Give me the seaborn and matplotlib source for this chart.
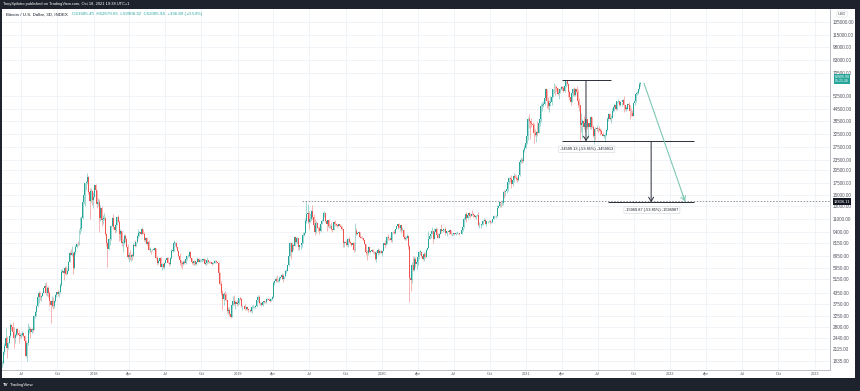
import matplotlib
matplotlib.use("Agg")
import matplotlib.pyplot as plt
import matplotlib.dates as mdates
from matplotlib.patches import Rectangle
import numpy as np
import pandas as pd
import seaborn as sns

# 3-day candles, first one starts on this day
start_day = "2017-05-14"
first_open = 1720

# closes / highs / lows per year
close_2017 = [1780, 2050, 2200, 2450, 2150, 2300,
              2500, 2900, 2800, 2650, 2450, 2550, 2750, 2600, 2550, 2500,
              2550, 2620, 2500, 2350, 1950, 2300, 2700, 2750, 2650, 2750, 2720,
              3250, 3400, 3650, 4100, 4300, 4100, 4150, 4350, 4600, 4750,
              4300, 4600, 4300, 3900, 3700, 3900, 3650, 3900, 4200, 4380,
              4250, 4400, 4800, 5650, 5700, 5600, 5950, 5500, 5750, 6450,
              7150, 7000, 7150, 5950, 7250, 7750, 8100, 8050, 9700, 9850,
              11200, 13800, 15000, 17400, 17700, 18900, 15500, 13900, 15800, 14000, 14700]
high_2017 = [1820, 2080, 2300, 2760, 2500, 2330,
             2520, 2950, 2910, 3000, 2800, 2620, 2780, 2780, 2700, 2600,
             2600, 2680, 2620, 2550, 2380, 2330, 2950, 2850, 2800, 2790, 2900,
             3280, 3450, 3700, 4200, 4450, 4370, 4200, 4380, 4620, 4900,
             4980, 4700, 4700, 4450, 3950, 4150, 4100, 3950, 4250, 4400,
             4470, 4450, 4920, 5850, 5850, 5760, 6100, 6100, 5950, 6470,
             7400, 7600, 7900, 7300, 7350, 8000, 8200, 8350, 9800, 11400,
             11500, 14400, 17200, 17500, 17900, 19800, 19100, 16400, 16500, 16000, 15500]
low_2017 = [1690, 1760, 2000, 2180, 1900, 2120,
            2280, 2480, 2700, 2600, 2150, 2300, 2500, 2550, 2300, 2450,
            2450, 2500, 2480, 2320, 1920, 1830, 2250, 2600, 2450, 2620, 2650,
            2720, 3150, 3250, 3600, 3800, 3950, 3920, 4150, 4320, 4540,
            4200, 4150, 4100, 3650, 2970, 3600, 3550, 3590, 3850, 4100,
            4180, 4120, 4350, 4750, 5550, 5100, 5500, 5450, 5650, 5700,
            6400, 7000, 6950, 5500, 5850, 7100, 7700, 7900, 8000, 9100,
            9500, 11000, 13400, 13000, 16000, 17300, 15200, 11000, 13700, 13200, 12800]

close_2018 = [17000, 16000, 13400, 13700, 11200, 12800, 10900, 11100, 11250, 9150,
              8200, 7600, 8550, 8550, 10150, 11200, 10000, 9600, 10300,
              11400, 10700, 9200, 9550, 8200, 8200, 8900, 8550, 7800, 6850, 7050,
              6800, 7000, 6950, 8000, 7900, 8250, 8950, 9250, 9400, 9200,
              9700, 9200, 8450, 8700, 8050, 8250, 7500, 7500, 7450, 7500,
              7500, 7650, 6750, 6300, 6500, 6750, 6050, 6250, 6050, 6350,
              6600, 6750, 6350, 6250, 6750, 7400, 7400, 8200, 8200, 7750,
              7400, 6950, 6550, 6300, 6250, 6400, 6300, 6700, 6900, 6950, 7300,
              6750, 6400, 6300, 6500, 6250, 6400, 6700, 6450, 6600, 6600,
              6600, 6630, 6250, 6300, 6550, 6420, 6420, 6400, 6250, 6370,
              6480, 6520, 6400, 6350, 5600, 4850, 4300, 4000, 4250, 4200,
              3950, 3450, 3500, 3300, 3200, 3700, 3900, 3750, 3850, 3750]
high_2018 = [17200, 17250, 15500, 14500, 14300, 13200, 13000, 11700, 11950, 11300,
             9300, 8300, 8700, 8950, 10300, 11300, 11750, 10400, 10950,
             11550, 11700, 10900, 9800, 9500, 8600, 9100, 9100, 8700, 8100, 7250,
             7500, 7100, 7200, 8200, 8500, 8300, 9000, 9750, 9500, 9500,
             9990, 9750, 9400, 8800, 8850, 8400, 8500, 7750, 7500, 7600,
             7750, 7700, 7700, 6900, 6650, 6850, 6830, 6300, 6300, 6450,
             6700, 6800, 6800, 6400, 6800, 7550, 7550, 8500, 8300, 8300,
             7750, 7500, 7150, 6600, 6500, 6600, 6550, 6900, 6950, 7100, 7350,
             7400, 6750, 6450, 6550, 6600, 6450, 6800, 6750, 6650, 6650,
             6620, 6650, 6650, 6350, 6800, 6560, 6460, 6460, 6420, 6420,
             6550, 6600, 6550, 6400, 6380, 5650, 5050, 4500, 4400, 4450,
             4300, 3950, 3600, 3600, 3350, 3900, 4150, 4200, 3950, 3950]
low_2018 = [14600, 15500, 12800, 13100, 9400, 10800, 10100, 10400, 10900, 9000,
            7900, 6000, 7500, 8000, 8500, 10100, 9700, 9300, 9400,
            10200, 10600, 8400, 8500, 7850, 7300, 8050, 8300, 7780, 6650, 6450,
            6600, 6500, 6600, 6800, 7800, 7850, 8150, 8700, 8900, 9050,
            9100, 9150, 8350, 8300, 7950, 7950, 7450, 7300, 7100, 7400,
            7450, 7350, 6650, 6150, 6250, 6430, 5980, 5800, 5950, 5850,
            6300, 6450, 6300, 6100, 6200, 6650, 7250, 7350, 7850, 7700,
            7350, 6850, 6200, 6000, 5900, 6150, 6250, 6250, 6550, 6850, 6850,
            6700, 6250, 6150, 6200, 6200, 6150, 6400, 6400, 6400, 6500,
            6450, 6500, 6150, 6180, 6250, 6350, 6350, 6350, 6200, 6230,
            6300, 6350, 6350, 6250, 5300, 4800, 4200, 3500, 3700, 3950,
            3900, 3350, 3300, 3250, 3150, 3200, 3650, 3700, 3550, 3650]

close_2019 = [3800, 4050, 4000, 3650, 3650, 3650, 3550, 3600, 3550, 3470, 3500,
              3450, 3600, 3600, 3600, 3650, 3950, 4100, 3800, 3800,
              3700, 3850, 3900, 3850, 4000, 4000, 3980, 3900, 4000, 4100,
              4900, 5050, 5200, 5050, 5050, 5250, 5300, 5450, 5200, 5350,
              5700, 5750, 6150, 6950, 8200, 7250, 7950, 7900, 8800, 8300, 8700,
              7800, 7950, 8000, 8200, 9000, 9250, 10800, 11800, 12000, 10600,
              11000, 12300, 11300, 10300, 9400, 10500, 9900, 9850, 9500, 10400,
              10800, 11900, 11900, 10850, 10350, 10900, 10100, 10150, 9750, 9600,
              10600, 10400, 10300, 10150, 10350, 10150, 10000, 9700, 8200, 8300,
              8200, 7950, 8600, 8300, 8150, 7950, 8200, 7450, 9550, 9200, 9300,
              9400, 8800, 8750, 8650, 8500, 8100, 7300, 7150, 7750, 7300,
              7400, 7500, 7250, 7250, 6650, 7150, 7500, 7200, 7400, 7200]
high_2019 = [3950, 4080, 4100, 4050, 3700, 3700, 3750, 3650, 3620, 3550, 3520,
             3500, 3700, 3700, 3650, 3700, 3950, 4200, 4200, 3850,
             3850, 3900, 3950, 3900, 4050, 4050, 4080, 4000, 4050, 4150,
             5050, 5100, 5300, 5450, 5150, 5350, 5400, 5600, 5500, 5380,
             5800, 5900, 6200, 7400, 8300, 8300, 8250, 8050, 8900, 8800, 8800,
             8750, 8000, 8200, 8400, 9400, 9400, 11200, 13880, 13400, 12200,
             12000, 12400, 13200, 11800, 11100, 10800, 10700, 10000, 10150, 10450,
             11000, 12100, 12300, 11900, 10900, 10950, 11000, 10350, 10600, 9800,
             10750, 10900, 10550, 10400, 10450, 10400, 10250, 10100, 8700, 8350,
             8500, 8300, 8650, 8800, 8400, 8150, 8300, 8300, 10500, 9900, 9350,
             9500, 9400, 8950, 8950, 8700, 8500, 8100, 7500, 7850, 7800,
             7450, 7600, 7600, 7350, 7300, 7400, 7650, 7550, 7500, 7450]
low_2019 = [3700, 3750, 3950, 3600, 3500, 3580, 3480, 3500, 3500, 3400, 3420,
            3400, 3350, 3570, 3570, 3580, 3620, 3850, 3750, 3700,
            3650, 3680, 3830, 3800, 3820, 3950, 3950, 3850, 3900, 3970,
            4050, 4800, 5000, 4950, 4980, 5000, 5150, 5200, 4950, 5150,
            5300, 5600, 5700, 6100, 6950, 6700, 7300, 7500, 7900, 8200, 8050,
            7500, 7450, 7550, 7800, 8200, 8950, 9250, 10500, 10500, 9700,
            10600, 10800, 11100, 10100, 9050, 9300, 9850, 9500, 9150, 9400,
            10450, 10800, 11400, 10700, 9550, 10050, 9900, 9900, 9650, 9400,
            9600, 10150, 10100, 9950, 10150, 10100, 9800, 9600, 7800, 7750,
            8000, 7850, 7800, 8150, 8050, 7850, 7900, 7300, 7350, 9050, 9000,
            9050, 8750, 8650, 8600, 8400, 8050, 7050, 6550, 7050, 7250,
            7150, 7350, 7150, 7100, 6600, 6450, 7050, 7100, 7150, 7150]

close_2020 = [7350, 8150, 8000, 8100, 8800, 8700, 8650, 8450, 9400, 9350,
              9300, 9750, 10150, 10350, 9900, 10200, 9600, 9650, 8800, 8550,
              8750, 8900, 7900, 5250, 5100, 6200, 5800, 6700, 6250, 6450,
              6800, 7300, 7300, 6900, 6650, 7100, 6850, 7500, 7700, 8600,
              8900, 9150, 9550, 8550, 9350, 9700, 9050, 8750, 9200, 9700, 9500,
              9650, 9750, 9300, 9450, 9450, 9350, 9650, 9150, 9200, 9250,
              9100, 9250, 9250, 9250, 9150, 9150, 9600, 9950, 11100, 11800,
              11200, 11600, 11900, 11550, 11850, 11750, 11700, 11350, 11550, 11650,
              10200, 10250, 10250, 10450, 10800, 10950, 10450, 10750, 10750, 10800,
              10600, 10600, 11050, 11550, 11500, 11500, 12800, 13050, 13650, 13550, 13550,
              15600, 15500, 15700, 16100, 17700, 18700, 18400, 17150, 18200, 19200,
              18700, 18300, 18050, 19250, 22800, 23500, 23250, 26500, 27400, 29000]
high_2020 = [7400, 8200, 8450, 8200, 8900, 9200, 8750, 8700, 9400, 9550,
             9600, 9800, 10150, 10450, 10500, 10250, 10250, 10000, 9750, 8900,
             8900, 9150, 8800, 7950, 5950, 6400, 6900, 6950, 6800, 6550,
             7000, 7350, 7450, 7300, 6950, 7300, 7250, 7550, 7800, 9450,
             9050, 9200, 9950, 9550, 9850, 9950, 9850, 9250, 9250, 9700, 10400,
             9850, 9800, 9950, 9550, 9550, 9450, 9750, 9650, 9250, 9250,
             9200, 9400, 9450, 9300, 9250, 9200, 9700, 10050, 11400, 11850,
             12050, 11800, 12050, 12000, 12000, 12450, 11900, 11700, 11600, 11800,
             12050, 10600, 10450, 10550, 10900, 11150, 11100, 10850, 10800, 10950,
             10900, 10800, 11100, 11700, 11550, 11600, 13200, 13250, 13800, 13800, 14100,
             15750, 15950, 15900, 16500, 17800, 18800, 18800, 19400, 18300, 19900,
             19600, 19400, 18900, 19400, 23800, 24200, 24100, 26800, 28400, 29600]
low_2020 = [6900, 7350, 7700, 7950, 8100, 8500, 8450, 8250, 8300, 9250,
            9150, 9100, 9700, 9700, 9900, 9500, 9300, 9550, 8600, 8450,
            8500, 8700, 7600, 3850, 4450, 4900, 5750, 5700, 6050, 5900,
            6200, 6650, 7050, 6800, 6550, 6500, 6750, 6850, 7450, 7650,
            8650, 8750, 9100, 8200, 8800, 9200, 8950, 8700, 8650, 9100, 9300,
            9400, 9550, 9050, 9250, 8950, 9200, 9250, 9000, 8950, 9050,
            9050, 9050, 9100, 9150, 9050, 9100, 9150, 9500, 9900, 10900,
            10650, 11100, 11350, 11200, 11500, 11600, 11400, 11150, 11100, 11500,
            10150, 9900, 9900, 10200, 10300, 10750, 10350, 10150, 10550, 10600,
            10400, 10500, 10550, 11000, 11300, 11250, 11400, 12700, 12900, 12950, 13200,
            13300, 14500, 14850, 15400, 15700, 17300, 17600, 16300, 16800, 17700,
            18600, 18200, 17600, 17950, 19000, 22400, 22400, 22800, 25800, 27800]

close_2021 = [31900, 39400, 38200, 37300, 36800, 36600, 33000, 32300, 33400, 33100,
              37600, 39200, 46400, 47300, 47900, 51600, 57500, 49700, 46300, 48400,
              48800, 52300, 57300, 59300, 58900, 58300, 54300, 55100, 57600, 59000,
              58700, 56000, 59800, 63500, 61300, 55700, 51800, 49000, 54800, 57800,
              53300, 57300, 55800, 49700, 46800, 36700, 37500, 38400, 35700, 37300,
              39200, 35800, 37300, 35500, 40200, 35800, 31600, 34700, 34600, 35000,
              34700, 34200, 33800, 32700, 31800, 31800, 32100, 34300, 39400, 42200, 39200,
              39800, 43800, 45600, 47100, 44700, 49300, 49500, 46900, 48800, 48800,
              50000, 46800, 44900, 44900, 47700, 47300, 43600, 42700, 41000, 48200,
              49200, 53800, 54900, 57300, 61685.45, 62005.94]
high_2021 = [34700, 40300, 41950, 38200, 40100, 37800, 37400, 34800, 33800, 38500,
             37700, 40900, 48100, 48600, 49700, 52600, 58350, 57500, 52100, 50000,
             52600, 52400, 57400, 61800, 60600, 60000, 58600, 57200, 58400, 59800,
             60000, 59500, 61200, 63800, 64250, 62500, 57000, 52000, 56400, 58400,
             58900, 58400, 59500, 57900, 51500, 46700, 42500, 39500, 40800, 37900,
             39400, 39200, 37500, 38300, 41000, 40500, 36400, 35000, 35500, 36600,
             35000, 35900, 35000, 34600, 33300, 32300, 32900, 34500, 40500, 42300, 42600,
             41400, 45300, 46700, 48100, 47900, 49300, 50500, 49800, 49600, 49000,
             51000, 52900, 47300, 46400, 48500, 48800, 47300, 45000, 44300, 48400,
             49500, 55400, 56000, 57800, 62900, 62679.65]
low_2021 = [28700, 30000, 35100, 30400, 35400, 34700, 28900, 31600, 29300, 31900,
            33400, 36200, 37700, 43800, 45800, 47100, 50800, 45000, 44800, 43000,
            46300, 47100, 51900, 54600, 53300, 56200, 53600, 50500, 54800, 57000,
            56800, 55500, 55800, 59300, 60900, 52000, 50400, 47200, 48800, 53000,
            53000, 53000, 54500, 46000, 43800, 30000, 33500, 31100, 34700, 33400,
            35700, 34800, 31000, 34800, 34700, 35200, 31300, 28800, 30150, 33900,
            32800, 33800, 32200, 32700, 31600, 31000, 29300, 31800, 34000, 38400, 38800,
            37600, 39800, 42900, 43800, 44400, 44300, 48300, 46300, 46400, 46500,
            48600, 43000, 44400, 43700, 44700, 46900, 39600, 40700, 40800, 41200,
            47200, 49000, 53600, 54100, 56900, 59908.32]

# axis ticks
price_ticks = [1835, 2115, 2440, 2800, 3250, 3750, 4350, 5150, 5950, 6950, 8150,
               9400, 11000, 13000, 15000, 17500, 20500, 23500, 27500, 32500, 38500,
               44500, 52500, 70500, 83000, 98000, 115000, 135000]
date_ticks = pd.date_range("2017-07-01", "2023-01-01", freq="QS")
month_names = {4: "Apr", 7: "Jul", 10: "Oct"}

# drawings on the chart
resistance = 13836.11
resistance_start = "2019-06-14"
measure_top, measure_mid, measure_low = 64250, 29650, 13680
measure_1_text = "-34599.13 (-53.85%) -3459913"
measure_2_text = "-15969.87 (-53.85%) -1596987"
projection_dates = ["2021-10-26", "2022-02-07"]
projection_prices = [62000, 13836]

# ---------------------------------------------------------------
closes = np.array(close_2017 + close_2018 + close_2019 + close_2020 + close_2021, float)
highs = np.array(high_2017 + high_2018 + high_2019 + high_2020 + high_2021, float)
lows = np.array(low_2017 + low_2018 + low_2019 + low_2020 + low_2021, float)
dates = pd.date_range(start_day, periods=len(closes), freq="3D")
opens = np.concatenate([[first_open], closes[:-1]])
df = pd.DataFrame({"date": dates, "open": opens, "close": closes,
                   "high": np.maximum(highs, np.maximum(opens, closes)),
                   "low": np.minimum(lows, np.minimum(opens, closes))})
df["x"] = mdates.date2num(df["date"])
df["up"] = df["close"] >= df["open"]

W, H = 860, 391
UP, DOWN = "#26a69a", "#ef5350"
GRID = "#eef1f6"
TEXT = "#50535e"

sns.set_theme(style="white")
plt.rcParams["font.family"] = ["Liberation Sans", "DejaVu Sans"]

fig = plt.figure(figsize=(W / 100, H / 100), dpi=100, facecolor="#1e222d")


def fx(px):
    return px / W


def fy(py):
    return 1 - py / H


# white chart panel (behind the axes)
fig.patches.append(Rectangle((fx(2), fy(378)), fx(853), 369 / H, transform=fig.transFigure,
                             facecolor="white", edgecolor="none", zorder=-5))

ax = fig.add_axes([fx(2), fy(370), fx(828), 361 / H])
ax.set_zorder(2)
ax.set_facecolor("none")
ax.set_yscale("log")
ax.set_ylim(1628, 159100)
ax.set_xlim(mdates.datestr2num("2017-05-14"), mdates.datestr2num("2023-02-09"))

# grid
for t in price_ticks:
    ax.axhline(t, color=GRID, lw=0.6, zorder=0)
for d in date_ticks:
    ax.axvline(mdates.date2num(d), color=GRID, lw=0.6, zorder=0)

# candles
for up, color in [(True, UP), (False, DOWN)]:
    sub = df[df["up"] == up]
    ax.vlines(sub["x"], sub["low"], sub["high"], color=color, lw=0.5, alpha=0.6, zorder=2)
    bottom = np.minimum(sub["open"], sub["close"])
    height = np.maximum(np.abs(sub["close"] - sub["open"]), bottom * 0.005)
    ax.bar(sub["x"], height, bottom=bottom, width=2.5, color=color, lw=0, zorder=3)

# horizontal resistance ray
rx = mdates.datestr2num(resistance_start)
ax.hlines(resistance, rx, ax.get_xlim()[1], color="#787b86", lw=0.55,
          linestyles=(0, (2, 2)), zorder=4)

# measurement drawings
LINE = "#2a2e39"
d = mdates.datestr2num
ax.hlines(measure_top, d("2021-04-01"), d("2021-08-04"), color=LINE, lw=0.7, zorder=5)
ax.hlines(measure_mid, d("2021-04-01"), d("2022-03-02"), color=LINE, lw=0.7, zorder=5)
ax.hlines(measure_low, d("2021-07-27"), d("2022-03-02"), color=LINE, lw=0.7, zorder=5)
for xd, y0, y1 in [("2021-06-01", measure_top, measure_mid), ("2021-11-13", measure_mid, measure_low)]:
    ax.annotate("", xy=(d(xd), y1), xytext=(d(xd), y0),
                arrowprops=dict(arrowstyle="->,head_length=0.5,head_width=0.3", color=LINE,
                                lw=0.7, mutation_scale=6, shrinkA=0, shrinkB=0), zorder=5)
box = dict(boxstyle="round,pad=0.35,rounding_size=0.3", fc="white", ec="#d1d4dc", lw=0.4)
ax.text(d("2021-06-03"), 26800, measure_1_text, fontsize=2.8, color="#131722",
        ha="center", va="center", bbox=box, zorder=6)
ax.text(d("2021-11-15"), 12400, measure_2_text, fontsize=2.8, color="#131722",
        ha="center", va="center", bbox=box, zorder=6)

# projection line
proj = pd.DataFrame({"x": mdates.datestr2num(projection_dates), "y": projection_prices})
sns.lineplot(data=proj, x="x", y="y", ax=ax, color="#7fc8b5", lw=0.8, zorder=5)
ax.annotate("", xy=(proj["x"][1], proj["y"][1]), xytext=(proj["x"][1] - 6, proj["y"][1] * 1.08),
            arrowprops=dict(arrowstyle="->,head_length=0.5,head_width=0.3", color="#7fc8b5",
                            lw=0.8, mutation_scale=6, shrinkA=0, shrinkB=0), zorder=5)

# axes styling
for s in ["top", "left"]:
    ax.spines[s].set_visible(False)
ax.spines["right"].set_color("#b2b5be")
ax.spines["bottom"].set_color("#b2b5be")
ax.spines["right"].set_linewidth(0.6)
ax.spines["bottom"].set_linewidth(0.6)
ax.set_xlabel("")
ax.set_ylabel("")

ax.yaxis.tick_right()
ax.set_yticks(price_ticks)
ax.set_yticklabels([f"{t:.2f}" for t in price_ticks])
ax.yaxis.set_minor_locator(matplotlib.ticker.NullLocator())
ax.tick_params(axis="y", length=0, pad=2.2, labelsize=3.3, labelcolor=TEXT)

ax.set_xticks(mdates.date2num(date_ticks))
ax.set_xticklabels([str(t.year) if t.month == 1 else month_names[t.month] for t in date_ticks])
ax.tick_params(axis="x", length=0, pad=1.5, labelsize=2.7, labelcolor=TEXT)

# price tags on the right axis
fig.text(fx(842), fy(79), "62005.99\n05:21:26", fontsize=2.6, color="white", ha="center",
         va="center", linespacing=1.05, zorder=10,
         bbox=dict(boxstyle="square,pad=0.25", fc="#26a69a", ec="none"))
fig.text(fx(842), fy(201.5), f"{resistance:.2f}", fontsize=2.9, color="white", ha="center",
         va="center", zorder=10, bbox=dict(boxstyle="square,pad=0.25", fc="#131722", ec="none"))
fig.text(fx(842), fy(14), "USD", fontsize=2.9, color=TEXT, ha="center", va="center", zorder=10,
         bbox=dict(boxstyle="round,pad=0.25", fc="white", ec="#d1d4dc", lw=0.3))

# legend line and header
fig.text(fx(6), fy(14.5), "Bitcoin / U.S. Dollar, 3D, INDEX", fontsize=3.2, color="#131722",
         va="center", zorder=10)
fig.text(fx(72), fy(14.5), "O61685.45  H62679.65  L59908.32  C62005.94  +336.89 (+0.54%)",
         fontsize=3.2, color=UP, va="center", zorder=10)
fig.text(fx(3), fy(4.5), "TonySpilotro published on TradingView.com, Oct 18, 2021 19:38 UTC+1",
         fontsize=2.9, color="white", va="center")
fig.text(fx(3), fy(385), "TV", fontsize=3.2, color="white", va="center", weight="bold")
fig.text(fx(10), fy(385), "TradingView", fontsize=3.2, color="white", va="center")

fig.savefig("out.png", dpi=100, facecolor=fig.get_facecolor())
